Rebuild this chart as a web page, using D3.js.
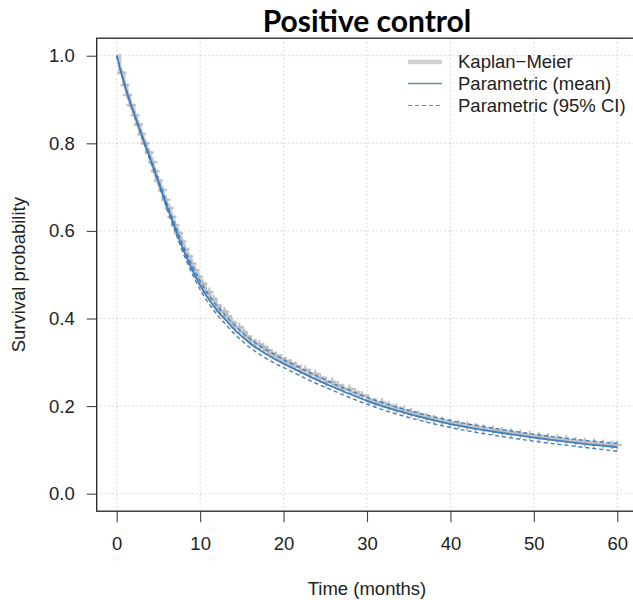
<!DOCTYPE html>
<html>
<head>
<meta charset="utf-8">
<script src="https://cdn.jsdelivr.net/npm/d3@7"></script>
<style>
  html, body { margin: 0; padding: 0; background: #fff; }
  svg { display: block; }
</style>
</head>
<body>
<svg id="chart" width="633" height="600"></svg>
<script>
// Kaplan–Meier estimate (step curve) for the positive control arm:
// each survival value holds from its time up to the next one
const kmTime = [0, 0.35, 0.85, 1.2, 1.55, 2.05, 2.4, 2.8, 3.15, 3.6, 4.05, 4.4, 4.75, 5.2, 5.6,
  6.0, 6.45, 6.8, 7.2, 7.65, 8.0, 8.4, 8.85, 9.2, 9.6,
  10.0, 10.6, 11.2, 11.8, 12.4, 13.0, 13.6, 14.2, 14.8, 15.4, 16.0, 16.6, 17.2, 17.8, 18.4,
  19.0, 19.6, 20.2, 20.8, 21.4,
  22, 23, 24, 25, 26, 27, 28, 29, 30, 31, 32, 33, 34, 35, 36, 37, 38, 39, 40, 41, 42, 43, 44,
  45, 46, 47, 48, 49, 50, 51, 52, 53, 54, 55, 56, 57, 58, 59, 60];
const kmSurv = [1.000, 0.961, 0.933, 0.910, 0.887, 0.864, 0.843, 0.821, 0.800, 0.779, 0.757,
  0.736, 0.715, 0.693, 0.671, 0.652, 0.632, 0.613, 0.595, 0.576, 0.558, 0.542, 0.525, 0.510,
  0.495,
  0.479, 0.460, 0.444, 0.429, 0.416, 0.404, 0.391, 0.380, 0.369, 0.358, 0.349, 0.341, 0.334,
  0.327, 0.320, 0.314, 0.308, 0.302, 0.297, 0.291,
  0.282, 0.273, 0.264, 0.255, 0.247, 0.239, 0.231, 0.224, 0.214, 0.208, 0.201, 0.195, 0.190,
  0.185, 0.179, 0.174, 0.170, 0.165, 0.161, 0.158, 0.155, 0.151, 0.148, 0.145, 0.142, 0.139,
  0.136, 0.133, 0.131, 0.128, 0.126, 0.124, 0.121, 0.119, 0.117, 0.115, 0.113, 0.111, 0.111];
// censoring times (marked with "+")
const censorTime = [0.6, 1.0, 1.3, 1.7, 2.2, 2.6, 3.0, 3.4, 3.9, 4.3, 4.6, 5.0, 5.5, 5.9, 6.3,
  6.6, 7.0, 7.4, 7.8, 8.2, 8.6, 9.0, 9.4, 9.8, 10.3, 10.7, 11.1, 11.6, 12.0, 12.4, 12.9, 13.3,
  13.8, 14.2, 14.7, 15.2, 15.6, 16.1, 16.6, 17.1, 17.6, 18.1, 18.6, 19.1, 19.7, 20.2, 20.8,
  21.4, 22.0, 22.6, 23.2, 23.8, 24.4, 25.1, 25.8, 26.5, 27.2, 27.9, 28.6, 29.4, 30.2, 31.0,
  31.8, 32.6, 33.5, 34.4, 35.3, 36.2, 37.1, 38.0, 39.0, 40.0, 41.0, 42.0, 43.0, 44.0, 45.1,
  46.2, 47.3, 48.4, 49.5, 50.6, 51.7, 52.8, 53.9, 55.0, 56.1, 57.2, 58.3, 59.4, 60.0];

// Parametric fit: mean survival and 95% confidence limits
const fitTime  = [0, 1, 2, 3, 4, 5, 6, 7, 8, 9, 10, 11, 12, 13, 14, 15, 16, 17, 18, 19, 20,
  22, 24, 26, 28, 30, 33, 36, 40, 45, 50, 55, 60];
const fitMean  = [1.000, 0.930, 0.872, 0.818, 0.765, 0.712, 0.657, 0.606, 0.556, 0.513, 0.476,
  0.445, 0.419, 0.398, 0.377, 0.359, 0.343, 0.330, 0.318, 0.307, 0.297, 0.278, 0.260, 0.243,
  0.227, 0.212, 0.193, 0.177, 0.159, 0.142, 0.128, 0.116, 0.106];
const fitLower = [1.000, 0.929, 0.870, 0.815, 0.761, 0.707, 0.651, 0.599, 0.548, 0.504, 0.466,
  0.435, 0.409, 0.388, 0.367, 0.349, 0.333, 0.320, 0.308, 0.297, 0.288, 0.269, 0.251, 0.235,
  0.219, 0.204, 0.185, 0.169, 0.151, 0.134, 0.120, 0.108, 0.097];
const fitUpper = [1.000, 0.931, 0.874, 0.821, 0.769, 0.717, 0.663, 0.613, 0.564, 0.522, 0.486,
  0.455, 0.429, 0.408, 0.387, 0.369, 0.353, 0.340, 0.328, 0.317, 0.306, 0.287, 0.269, 0.251,
  0.235, 0.220, 0.201, 0.185, 0.167, 0.150, 0.136, 0.124, 0.115];

const xTicks = [0, 10, 20, 30, 40, 50, 60];
const yTicks = [0.0, 0.2, 0.4, 0.6, 0.8, 1.0];
const legendLabels = ["Kaplan\u2212Meier", "Parametric (mean)", "Parametric (95% CI)"];

const svg = d3.select("#chart");
const plotL = 96.7, plotR = 637.3, plotT = 38.2, plotB = 511.2;
const x = d3.scaleLinear().domain([-2.4, 62.4]).range([plotL, plotR]);
const y = d3.scaleLinear().domain([-0.04, 1.04]).range([plotB, plotT]);

const FONT = '"Liberation Sans", Arial, Helvetica, sans-serif';
const FS = "18.5px";
const gridColor = "#c4c4c4";
const blue = "#3f7fbf";
const kmLine = "#cdcdcd";
const kmMark = "#bcbcbc";

// grid
const grid = svg.append("g");
grid.selectAll("line.gx").data(xTicks).join("line").attr("class", "gx")
  .attr("x1", d => x(d)).attr("x2", d => x(d))
  .attr("y1", plotT).attr("y2", plotB)
  .attr("stroke", gridColor).attr("stroke-width", 1).attr("stroke-dasharray", "1.2,2.8");
grid.selectAll("line.gy").data(yTicks).join("line").attr("class", "gy")
  .attr("x1", plotL).attr("x2", plotR)
  .attr("y1", d => y(d)).attr("y2", d => y(d))
  .attr("stroke", gridColor).attr("stroke-width", 1).attr("stroke-dasharray", "1.2,2.8");

// Kaplan–Meier step curve
const km = kmTime.map((t, i) => [t, kmSurv[i]]);
svg.append("path").datum(km)
  .attr("fill", "none").attr("stroke", kmLine).attr("stroke-width", 3.6)
  .attr("d", d3.line().x(d => x(d[0])).y(d => y(d[1])).curve(d3.curveStepAfter));

// censor marks placed on the KM curve
const bis = d3.bisector(d => d).right;
const censor = censorTime.map(t => [t, kmSurv[Math.max(0, bis(kmTime, t) - 1)]]);
const cs = 4.6;
const cg = svg.append("g").attr("stroke", kmMark).attr("stroke-width", 1.8);
cg.selectAll("path").data(censor).join("path")
  .attr("d", d => {
    const cx = x(d[0]), cy = y(d[1]);
    return `M${cx - cs},${cy}H${cx + cs}M${cx},${cy - cs}V${cy + cs}`;
  });

// parametric fit
const fitLine = arr => d3.line()
  .x((d, i) => x(fitTime[i])).y(d => y(d)).curve(d3.curveMonotoneX)(arr);
svg.append("path").attr("d", fitLine(fitLower))
  .attr("fill", "none").attr("stroke", blue).attr("stroke-width", 1.4).attr("stroke-dasharray", "4,3");
svg.append("path").attr("d", fitLine(fitUpper))
  .attr("fill", "none").attr("stroke", blue).attr("stroke-width", 1.4).attr("stroke-dasharray", "4,3");
svg.append("path").attr("d", fitLine(fitMean))
  .attr("fill", "none").attr("stroke", blue).attr("stroke-width", 1.8);

// plot frame
svg.append("rect").attr("x", plotL).attr("y", plotT)
  .attr("width", plotR - plotL).attr("height", plotB - plotT)
  .attr("fill", "none").attr("stroke", "#222").attr("stroke-width", 1.3);

// axes
const xAxis = svg.append("g").attr("transform", `translate(0,${plotB})`)
  .call(d3.axisBottom(x).tickValues(xTicks).tickFormat(d3.format("d")).tickSize(11).tickPadding(15));
const yAxis = svg.append("g").attr("transform", `translate(${plotL},0)`)
  .call(d3.axisLeft(y).tickValues(yTicks).tickFormat(d3.format(".1f")).tickSize(10).tickPadding(12));
[xAxis, yAxis].forEach(a => {
  a.select(".domain").remove();
  a.selectAll(".tick line").attr("stroke", "#444").attr("stroke-width", 1.1);
  a.selectAll(".tick text").attr("fill", "#222").style("font-size", FS).style("font-family", FONT);
});

// axis titles
svg.append("text").attr("x", (plotL + plotR) / 2).attr("y", 595)
  .attr("text-anchor", "middle").attr("fill", "#222")
  .style("font-family", FONT).style("font-size", FS).text("Time (months)");
svg.append("text").attr("transform", `translate(25,${(plotT + plotB) / 2}) rotate(-90)`)
  .attr("text-anchor", "middle").attr("fill", "#222")
  .style("font-family", FONT).style("font-size", FS).text("Survival probability");

// title
svg.append("text").attr("x", (plotL + plotR) / 2).attr("y", 32)
  .attr("text-anchor", "middle").attr("fill", "#000")
  .style("font-family", "Lato, 'Open Sans', sans-serif").style("font-weight", 700)
  .style("font-size", "30px").text("Positive control");

// legend
const leg = svg.append("g");
const rowY = [62, 83.5, 105.5];
const lx1 = 408, lx2 = 442, tx = 458;
leg.append("line").attr("x1", lx1).attr("x2", lx2).attr("y1", rowY[0]).attr("y2", rowY[0])
  .attr("stroke", "#d2d2d2").attr("stroke-width", 4.5);
leg.append("line").attr("x1", lx1).attr("x2", lx2).attr("y1", rowY[1]).attr("y2", rowY[1])
  .attr("stroke", "#6b8cab").attr("stroke-width", 1.5);
leg.append("line").attr("x1", lx1).attr("x2", lx2).attr("y1", rowY[2]).attr("y2", rowY[2])
  .attr("stroke", "#5a8cc0").attr("stroke-width", 1.1).attr("stroke-dasharray", "4,3");
leg.selectAll("text").data(legendLabels).join("text")
  .attr("x", tx).attr("y", (d, i) => rowY[i]).attr("dy", "0.35em")
  .attr("fill", "#222").style("font-family", FONT).style("font-size", FS)
  .text(d => d);
</script>
</body>
</html>
